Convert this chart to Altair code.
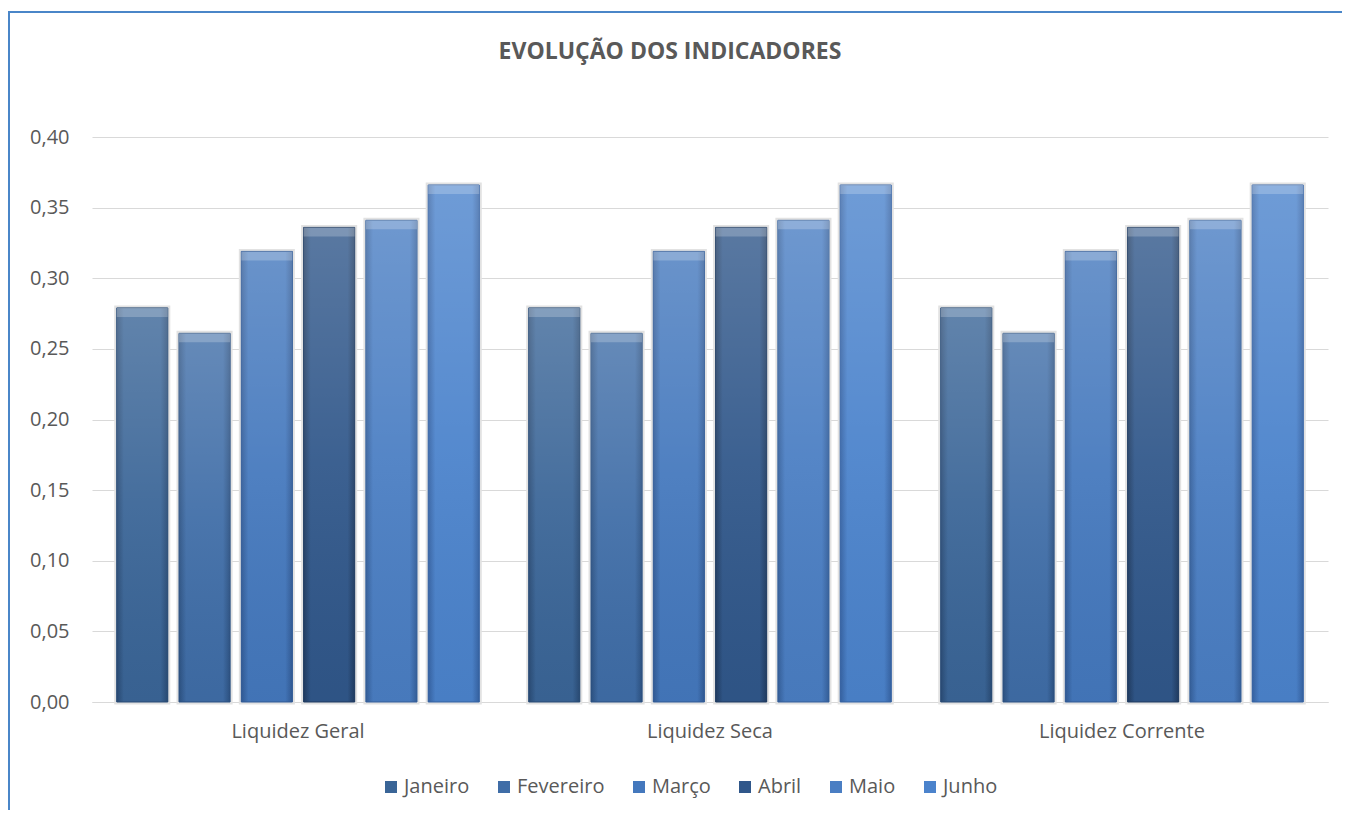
import altair as alt
import pandas as pd

categories = ["Liquidez Geral", "Liquidez Seca", "Liquidez Corrente"]
months = ["Janeiro", "Fevereiro", "Março", "Abril", "Maio", "Junho"]
values = [0.279, 0.261, 0.319, 0.336, 0.341, 0.366]
y_ticks = [0.0, 0.05, 0.10, 0.15, 0.20, 0.25, 0.30, 0.35, 0.40]
title_text = ["EVOLUÇÃO DOS INDICADORES"]

base_colors = ["#3A6597", "#3F6DA7", "#4478BD", "#30578A", "#4A7EC3", "#4B83CC"]
edge_colors = ["#2A4C76", "#2D5384", "#325C98", "#213D63", "#36619D", "#3764A5"]

rows = []
for c in categories:
    for m, v in zip(months, values):
        rows.append({"cat": c, "month": m, "value": v})
df = pd.DataFrame(rows)

FONT = "Open Sans"
GRAY = "#595959"

x_enc = alt.X("cat:N", sort=categories,
              scale=alt.Scale(paddingInner=0.12, paddingOuter=0.06),
              axis=alt.Axis(title=None, labelAngle=0, ticks=False, domainColor="#D9D9D9",
                            labelFontSize=20, labelColor=GRAY, labelFont=FONT, labelPadding=19))
xo_enc = alt.XOffset("month:N", sort=months,
                     scale=alt.Scale(domain=months, paddingInner=0.18, paddingOuter=0))
y_enc = alt.Y("value:Q", scale=alt.Scale(domain=[0, 0.4], nice=False),
              axis=alt.Axis(title=None, values=y_ticks, domain=False, ticks=False,
                            gridColor="#D9D9D9", labelFontSize=20, labelColor=GRAY,
                            labelFont=FONT, labelPadding=23,
                            labelExpr="replace(format(datum.value, '.2f'), '.', ',')"))

base = alt.Chart(df)

shadow = base.mark_bar(color="#D8D8D8", stroke="#E2E2E2", strokeWidth=5).encode(
    x=x_enc, xOffset=xo_enc, y=y_enc)

legend_layer = base.mark_bar().encode(
    x=x_enc, xOffset=xo_enc, y=y_enc,
    color=alt.Color("month:N", sort=months,
                    scale=alt.Scale(domain=months, range=base_colors),
                    legend=alt.Legend(title=None, orient="none", direction="horizontal",
                                      legendX=289, legendY=640,
                                      symbolType="square", symbolSize=144,
                                      symbolStrokeWidth=0, labelFontSize=20,
                                      labelFont=FONT, labelColor=GRAY,
                                      labelOffset=3, columnPadding=24)))

month_layers = []
for m, bc, ec in zip(months, base_colors, edge_colors):
    grad = alt.Gradient(gradient="linear", x1=0, x2=1, y1=0, y2=0,
                        stops=[alt.GradientStop(color=ec, offset=0),
                               alt.GradientStop(color=bc, offset=0.14),
                               alt.GradientStop(color=bc, offset=0.86),
                               alt.GradientStop(color=ec, offset=1)])
    month_layers.append(
        base.transform_filter(alt.datum.month == m).mark_bar(
            color=grad, stroke=ec, strokeWidth=1).encode(
            x=x_enc, xOffset=xo_enc, y=y_enc))

vgrad = alt.Gradient(gradient="linear", x1=0, x2=0, y1=0, y2=1,
                     stops=[alt.GradientStop(color="rgba(255,255,255,0.20)", offset=0),
                            alt.GradientStop(color="rgba(255,255,255,0.06)", offset=0.5),
                            alt.GradientStop(color="rgba(0,0,0,0.04)", offset=1)])
highlight = base.mark_bar(color=vgrad).encode(x=x_enc, xOffset=xo_enc, y=y_enc)

bevel = base.mark_bar(color="rgba(255,255,255,0.22)", y2Offset=9).encode(
    x=x_enc, xOffset=xo_enc, y=y_enc, y2="value:Q")

one = alt.Data(values=[{"a": 1}])
title_layer = alt.Chart(alt.Data(values=[{"t": t} for t in title_text])).mark_text(
    font=FONT, fontSize=23, fontWeight="bold", color=GRAY, baseline="middle",
    align="center").encode(text="t:N", x=alt.value(578), y=alt.value(-85))

border_left = alt.Chart(one).mark_rule(color="#4A86C8", strokeWidth=2).encode(
    x=alt.value(-83), y=alt.value(-125), y2=alt.value(700))
border_top = alt.Chart(one).mark_rule(color="#4A86C8", strokeWidth=2).encode(
    x=alt.value(-84), x2=alt.value(1300), y=alt.value(-125))

chart = alt.layer(shadow, legend_layer, *month_layers, highlight, bevel,
                  title_layer, border_left, border_top).properties(
    width=1236, height=565,
    autosize=alt.AutoSizeParams(type="none"),
    padding={"left": 84, "top": 129, "right": 14, "bottom": 108},
).configure(background="white").configure_view(stroke=None)

chart.save("out.html", embed_options={"renderer": "svg", "actions": False})
